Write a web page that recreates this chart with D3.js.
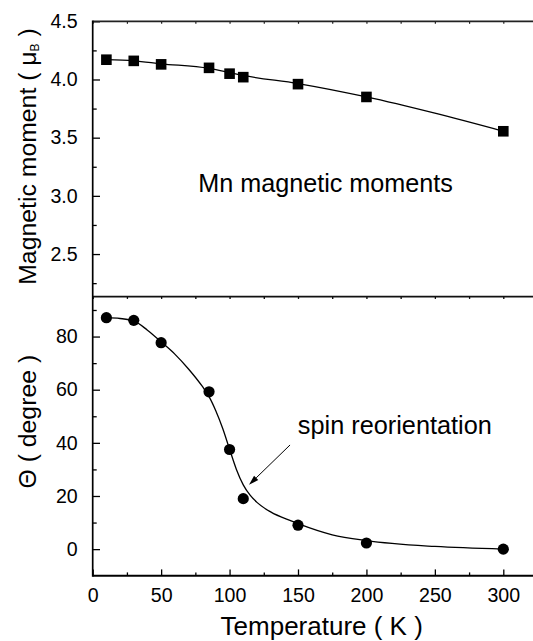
<!DOCTYPE html>
<html>
<head>
<meta charset="utf-8">
<script src="https://cdn.jsdelivr.net/npm/d3@7"></script>
<style>
  html, body { margin: 0; padding: 0; background: #fff; }
  svg { display: block; }
  text { font-family: "Liberation Sans", Arial, Helvetica, sans-serif; fill: #000; }
</style>
</head>
<body>
<script>
// Measured temperatures (K)
const temperatures = [10, 30, 50, 85, 100, 110, 150, 200, 300];
// Mn magnetic moment (μB) at each temperature
const moments = [4.17, 4.16, 4.13, 4.10, 4.05, 4.02, 3.96, 3.85, 3.555];
// Spin angle Θ (degree) at each temperature
const angles = [87.1, 86.1, 77.7, 59.2, 37.5, 19.0, 9.0, 2.3, 0.0];

// Guide-to-the-eye curves
const momentFitT = [10, 30, 50, 85, 100, 110, 150, 200, 250, 300];
const momentFitV = [4.17, 4.16, 4.135, 4.095, 4.06, 4.035, 3.965, 3.85, 3.71, 3.555];
const angleFitT = [10, 20, 30, 40, 50, 60, 70, 80, 85, 90, 95, 100, 105, 110, 115, 120, 130, 145, 150, 175, 200, 250, 300];
const angleFitV = [87.1, 86.8, 85.9, 82.4, 78.0, 73.4, 67.8, 61.3, 57.4, 52.0, 45.4, 37.6, 30.0, 24.2, 20.3, 17.6, 14.0, 10.6, 9.6, 5.4, 3.2, 1.0, 0.0];

// Tick values
const xMajorTicks = [0, 50, 100, 150, 200, 250, 300];
const xMinorTicks = [25, 75, 125, 175, 225, 275];
const momentMajorTicks = [2.5, 3.0, 3.5, 4.0, 4.5];
const momentMinorTicks = [2.25, 2.75, 3.25, 3.75, 4.25];
const angleMajorTicks = [0, 20, 40, 60, 80];
const angleMinorTicks = [10, 30, 50, 70, 90];

// Annotation arrow: [T, Θ] of tail and head
const arrowTail = [144.2, 39.2];
const arrowHead = [114.2, 24.2];

const W = 533, H = 641;
const left = 92.7, right = 533;
const topY = 21.3, midY = 296.7, botY = 575.7;

const svg = d3.select("body").append("svg").attr("width", W).attr("height", H);

const x = d3.scaleLinear().domain([0, 300]).range([left, 503.3]);
const yTop = d3.scaleLinear().domain([2.1335, 4.5]).range([midY, topY]);
const yBot = d3.scaleLinear().domain([-10, 95]).range([botY, midY]);

const tickFont = "19.6px";

// ---- left axes (ticks inward) ----
function leftAxis(scale, major, minor, fmt) {
  const gMaj = svg.append("g").attr("transform", `translate(${left},0)`)
    .call(d3.axisLeft(scale).tickValues(major).tickSize(-7.3).tickPadding(15).tickFormat(fmt));
  gMaj.select(".domain").remove();
  gMaj.selectAll(".tick line").attr("stroke", "#000").attr("stroke-width", 1.3);
  gMaj.selectAll(".tick text").style("font-size", tickFont).attr("fill", "#000")
    .attr("font-family", null);
  const gMin = svg.append("g").attr("transform", `translate(${left},0)`)
    .call(d3.axisLeft(scale).tickValues(minor).tickSize(-4).tickFormat(""));
  gMin.select(".domain").remove();
  gMin.selectAll(".tick line").attr("stroke", "#000").attr("stroke-width", 1.3);
}
leftAxis(yTop, momentMajorTicks, momentMinorTicks, d3.format(".1f"));
leftAxis(yBot, angleMajorTicks, angleMinorTicks, d3.format("d"));

// ---- bottom axis ----
const gx = svg.append("g").attr("transform", `translate(0,${botY})`)
  .call(d3.axisBottom(x).tickValues(xMajorTicks).tickSize(-6.3).tickPadding(12.5).tickFormat(d3.format("d")));
gx.select(".domain").remove();
gx.selectAll(".tick line").attr("stroke", "#000").attr("stroke-width", 1.3);
gx.selectAll(".tick text").style("font-size", tickFont).attr("fill", "#000").attr("font-family", null);
const gxm = svg.append("g").attr("transform", `translate(0,${botY})`)
  .call(d3.axisBottom(x).tickValues(xMinorTicks).tickSize(-3.3).tickFormat(""));
gxm.select(".domain").remove();
gxm.selectAll(".tick line").attr("stroke", "#000").attr("stroke-width", 1.3);

// ---- top frame line and panel divider with small ticks ----
const allX = xMajorTicks.concat(xMinorTicks);
const gt = svg.append("g").attr("transform", `translate(0,${topY})`)
  .call(d3.axisTop(x).tickValues(allX).tickSize(-2.5).tickFormat(""));
gt.select(".domain").remove();
gt.selectAll(".tick line").attr("stroke", "#222").attr("stroke-width", 1.2);
const gd = svg.append("g").attr("transform", `translate(0,${midY})`)
  .call(d3.axisTop(x).tickValues(allX).tickSize(-2.2).tickFormat(""));
gd.select(".domain").remove();
gd.selectAll(".tick line").attr("stroke", "#000").attr("stroke-width", 1.3);

// frame lines
svg.append("line").attr("x1", left).attr("x2", right).attr("y1", topY).attr("y2", topY)
  .attr("stroke", "#222").attr("stroke-width", 1.8);
svg.append("line").attr("x1", left).attr("x2", right).attr("y1", midY).attr("y2", midY)
  .attr("stroke", "#111").attr("stroke-width", 1.7);
svg.append("line").attr("x1", left).attr("x2", right).attr("y1", botY).attr("y2", botY)
  .attr("stroke", "#000").attr("stroke-width", 2);
svg.append("line").attr("x1", left).attr("x2", left).attr("y1", topY - 0.9).attr("y2", botY + 1)
  .attr("stroke", "#000").attr("stroke-width", 1.7);

// ---- curves ----
const lineTop = d3.line().x(d => x(d[0])).y(d => yTop(d[1])).curve(d3.curveMonotoneX);
const lineBot = d3.line().x(d => x(d[0])).y(d => yBot(d[1])).curve(d3.curveMonotoneX);
svg.append("path").attr("d", lineTop(d3.zip(momentFitT, momentFitV)))
  .attr("fill", "none").attr("stroke", "#000").attr("stroke-width", 1.3);
svg.append("path").attr("d", lineBot(d3.zip(angleFitT, angleFitV)))
  .attr("fill", "none").attr("stroke", "#000").attr("stroke-width", 1.3);

// ---- markers ----
const sq = 10.6;
svg.append("g").selectAll("rect").data(d3.zip(temperatures, moments)).join("rect")
  .attr("x", d => x(d[0]) - sq / 2).attr("y", d => yTop(d[1]) - sq / 2)
  .attr("width", sq).attr("height", sq).attr("fill", "#000");
svg.append("g").selectAll("circle").data(d3.zip(temperatures, angles)).join("circle")
  .attr("cx", d => x(d[0])).attr("cy", d => yBot(d[1])).attr("r", 5.6).attr("fill", "#000");

// ---- annotation arrow ----
const ax1 = x(arrowTail[0]), ay1 = yBot(arrowTail[1]);
const ax2 = x(arrowHead[0]), ay2 = yBot(arrowHead[1]);
const ang = Math.atan2(ay2 - ay1, ax2 - ax1);
const headLen = 10, headHalf = 3;
const bx = ax2 - headLen * Math.cos(ang), by = ay2 - headLen * Math.sin(ang);
svg.append("line").attr("x1", ax1).attr("y1", ay1).attr("x2", bx).attr("y2", by)
  .attr("stroke", "#000").attr("stroke-width", 1);
svg.append("path")
  .attr("d", `M${ax2},${ay2}L${bx - headHalf * Math.sin(ang)},${by + headHalf * Math.cos(ang)}L${bx + headHalf * Math.sin(ang)},${by - headHalf * Math.cos(ang)}Z`)
  .attr("fill", "#000");

// ---- texts ----
svg.append("text").attr("x", 198.2).attr("y", 191.7).style("font-size", "25.2px")
  .text("Mn magnetic moments");
svg.append("text").attr("x", 297.8).attr("y", 433.7).style("font-size", "25.3px")
  .text("spin reorientation");
svg.append("text").attr("x", 321.7).attr("y", 634.5).attr("text-anchor", "middle")
  .style("font-size", "26px").text("Temperature ( K )");

const t1 = svg.append("text").attr("transform", "translate(35.5,156.5) rotate(-90)")
  .attr("text-anchor", "middle").style("font-size", "24.8px");
t1.append("tspan").text("Magnetic moment ( \u03BC");
t1.append("tspan").attr("dy", 3).style("font-size", "12px").text("B");
t1.append("tspan").attr("dy", -3).text(" )");

svg.append("text").attr("transform", "translate(35.5,421.7) rotate(-90)")
  .attr("text-anchor", "middle").style("font-size", "24.8px").text("\u0398 ( degree )");
</script>
</body>
</html>
